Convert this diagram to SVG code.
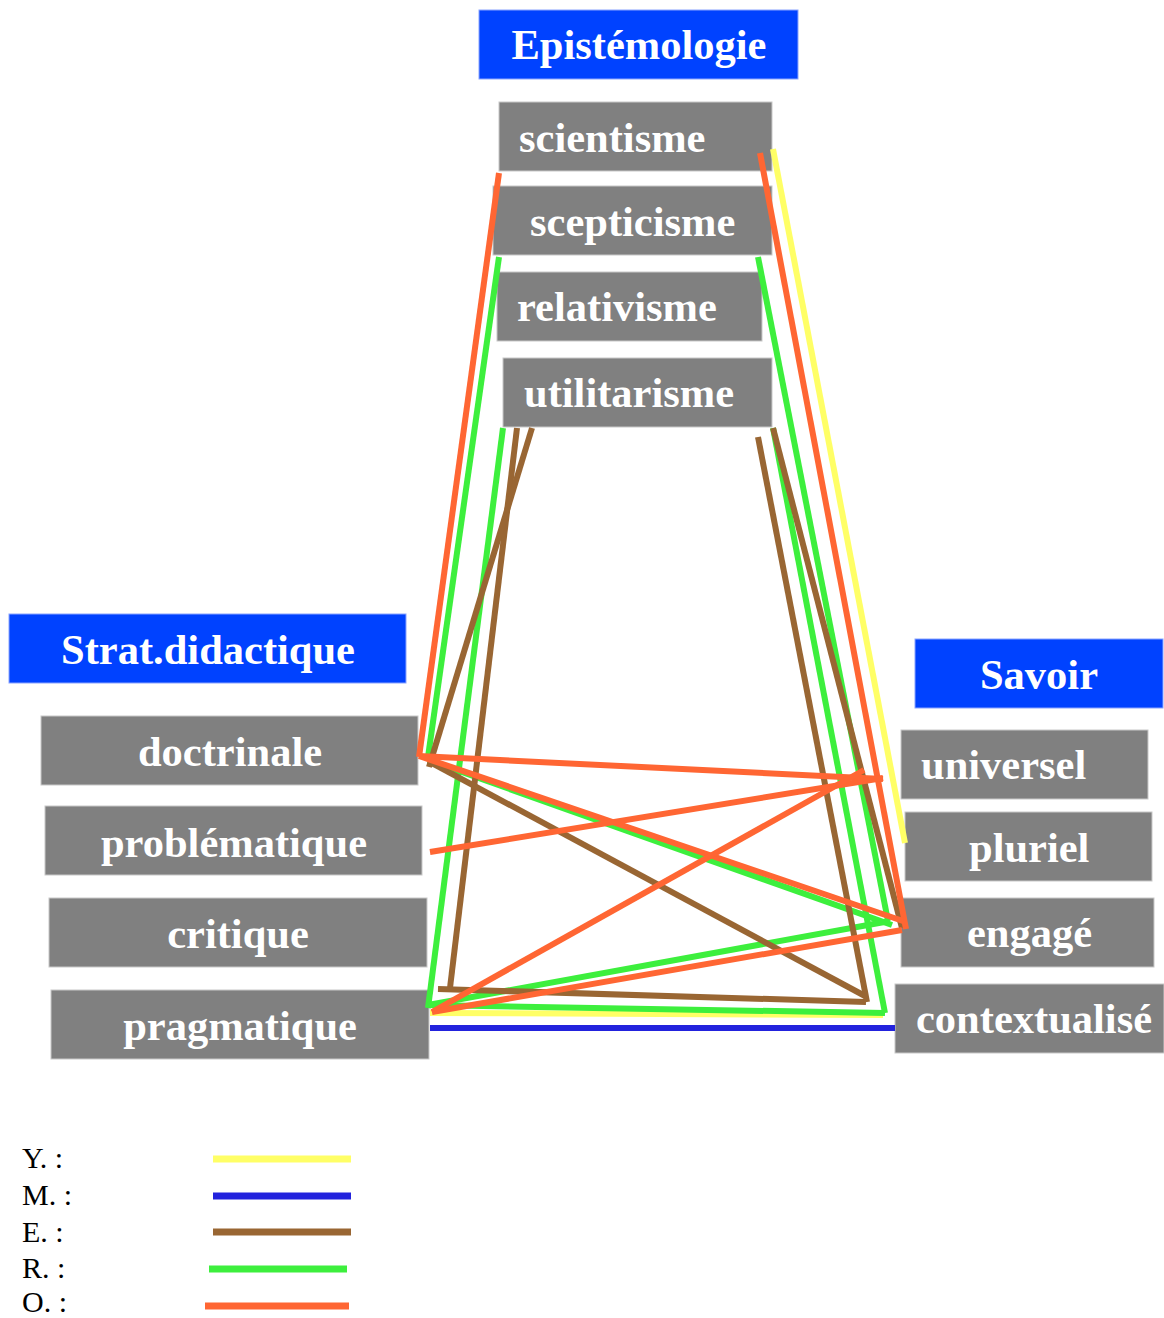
<svg xmlns="http://www.w3.org/2000/svg" width="1164" height="1318" viewBox="0 0 1164 1318">
<style>
.box{fill:#808080;stroke:#c8c8c8;stroke-width:1}
.hdr{fill:#0042ff;stroke:#8aa4ff;stroke-width:1}
.t{font-family:"Liberation Serif","Times New Roman",serif;font-weight:bold;font-size:42.5px;fill:#ffffff}
.c{text-anchor:middle}
.lg{font-family:"Liberation Serif","Times New Roman",serif;font-size:30px;fill:#000000}
.ln{fill:none;stroke-width:6;stroke-linecap:butt}
.y{stroke:#ffff66}.m{stroke:#2222dd}.e{stroke:#996633}.r{stroke:#3def3d}.o{stroke:#ff6633}
.lgl{stroke-width:7}
</style>
<rect width="1164" height="1318" fill="#ffffff"/>
<g id="epistemologie"><rect class="hdr" x="479" y="10" width="319" height="69"/><text class="t c" x="639" y="59">Epistémologie</text></g>
<g id="scientisme"><rect class="box" x="499" y="102" width="273" height="69"/><text class="t" x="519" y="152">scientisme</text></g>
<g id="scepticisme"><rect class="box" x="493" y="186" width="279" height="69"/><text class="t" x="530" y="236">scepticisme</text></g>
<g id="relativisme"><rect class="box" x="497" y="272" width="265" height="69"/><text class="t" x="517" y="321">relativisme</text></g>
<g id="utilitarisme"><rect class="box" x="503" y="358" width="269" height="69"/><text class="t" x="524" y="407">utilitarisme</text></g>
<g id="strat"><rect class="hdr" x="9" y="614" width="397" height="69"/><text class="t c" x="208" y="664">Strat.didactique</text></g>
<g id="doctrinale"><rect class="box" x="41" y="716" width="377" height="69"/><text class="t c" x="230" y="766">doctrinale</text></g>
<g id="problematique"><rect class="box" x="45" y="806" width="377" height="69"/><text class="t c" x="234" y="857">problématique</text></g>
<g id="critique"><rect class="box" x="49" y="898" width="378" height="69"/><text class="t c" x="238" y="948">critique</text></g>
<g id="pragmatique"><rect class="box" x="51" y="990" width="378" height="69"/><text class="t c" x="240" y="1040">pragmatique</text></g>
<g id="savoir"><rect class="hdr" x="915" y="639" width="248" height="69"/><text class="t c" x="1039" y="689">Savoir</text></g>
<g id="universel"><rect class="box" x="901" y="730" width="247" height="69"/><text class="t" x="921" y="779">universel</text></g>
<g id="pluriel"><rect class="box" x="905" y="812" width="247" height="69"/><text class="t" x="969" y="862">pluriel</text></g>
<g id="engage"><rect class="box" x="901" y="898" width="253" height="69"/><text class="t" x="967" y="947">engagé</text></g>
<g id="contextualise"><rect class="box" x="895" y="984" width="269" height="69"/><text class="t" x="916" y="1033">contextualisé</text></g>
<g id="connectors">
<line class="ln m" x1="430" y1="1028" x2="895" y2="1028"/>
<line class="ln y" x1="430" y1="1013" x2="883" y2="1015"/>
<line class="ln y" x1="773" y1="149" x2="905" y2="843"/>
<line class="ln r" x1="428" y1="760" x2="892" y2="925"/>
<line class="ln r" x1="499" y1="257" x2="428" y2="757"/>
<line class="ln r" x1="503" y1="428" x2="428" y2="1008"/>
<line class="ln r" x1="758" y1="257" x2="888" y2="921"/>
<line class="ln r" x1="773" y1="428" x2="885" y2="1013"/>
<line class="ln r" x1="428" y1="1005" x2="885" y2="1013"/>
<line class="ln r" x1="428" y1="1005" x2="890" y2="921"/>
<line class="ln e" x1="517" y1="428" x2="450" y2="988"/>
<line class="ln e" x1="532" y1="428" x2="429" y2="767"/>
<line class="ln e" x1="430" y1="762" x2="865" y2="996"/>
<line class="ln e" x1="438" y1="989" x2="866" y2="1002"/>
<line class="ln e" x1="758" y1="437" x2="867" y2="1002"/>
<line class="ln e" x1="773" y1="428" x2="902" y2="928"/>
<line class="ln o" x1="499" y1="173" x2="419" y2="757"/>
<line class="ln o" x1="760" y1="153" x2="906" y2="929"/>
<line class="ln o" x1="419" y1="756" x2="883" y2="779"/>
<line class="ln o" x1="419" y1="756" x2="903" y2="921"/>
<line class="ln o" x1="430" y1="852" x2="883" y2="778"/>
<line class="ln o" x1="432" y1="1012" x2="864" y2="770"/>
<line class="ln o" x1="432" y1="1012" x2="902" y2="930"/>
</g>
<g id="legend">
<text class="lg" x="22" y="1168">Y. :</text>
<text class="lg" x="22" y="1205">M. :</text>
<text class="lg" x="22" y="1242">E. :</text>
<text class="lg" x="22" y="1278">R. :</text>
<text class="lg" x="22" y="1312">O. :</text>
<line class="ln y lgl" x1="213" y1="1159" x2="351" y2="1159"/>
<line class="ln m lgl" x1="213" y1="1196" x2="351" y2="1196"/>
<line class="ln e lgl" x1="213" y1="1232" x2="351" y2="1232"/>
<line class="ln r lgl" x1="209" y1="1269" x2="347" y2="1269"/>
<line class="ln o lgl" x1="205" y1="1306" x2="349" y2="1306"/>
</g>
</svg>
